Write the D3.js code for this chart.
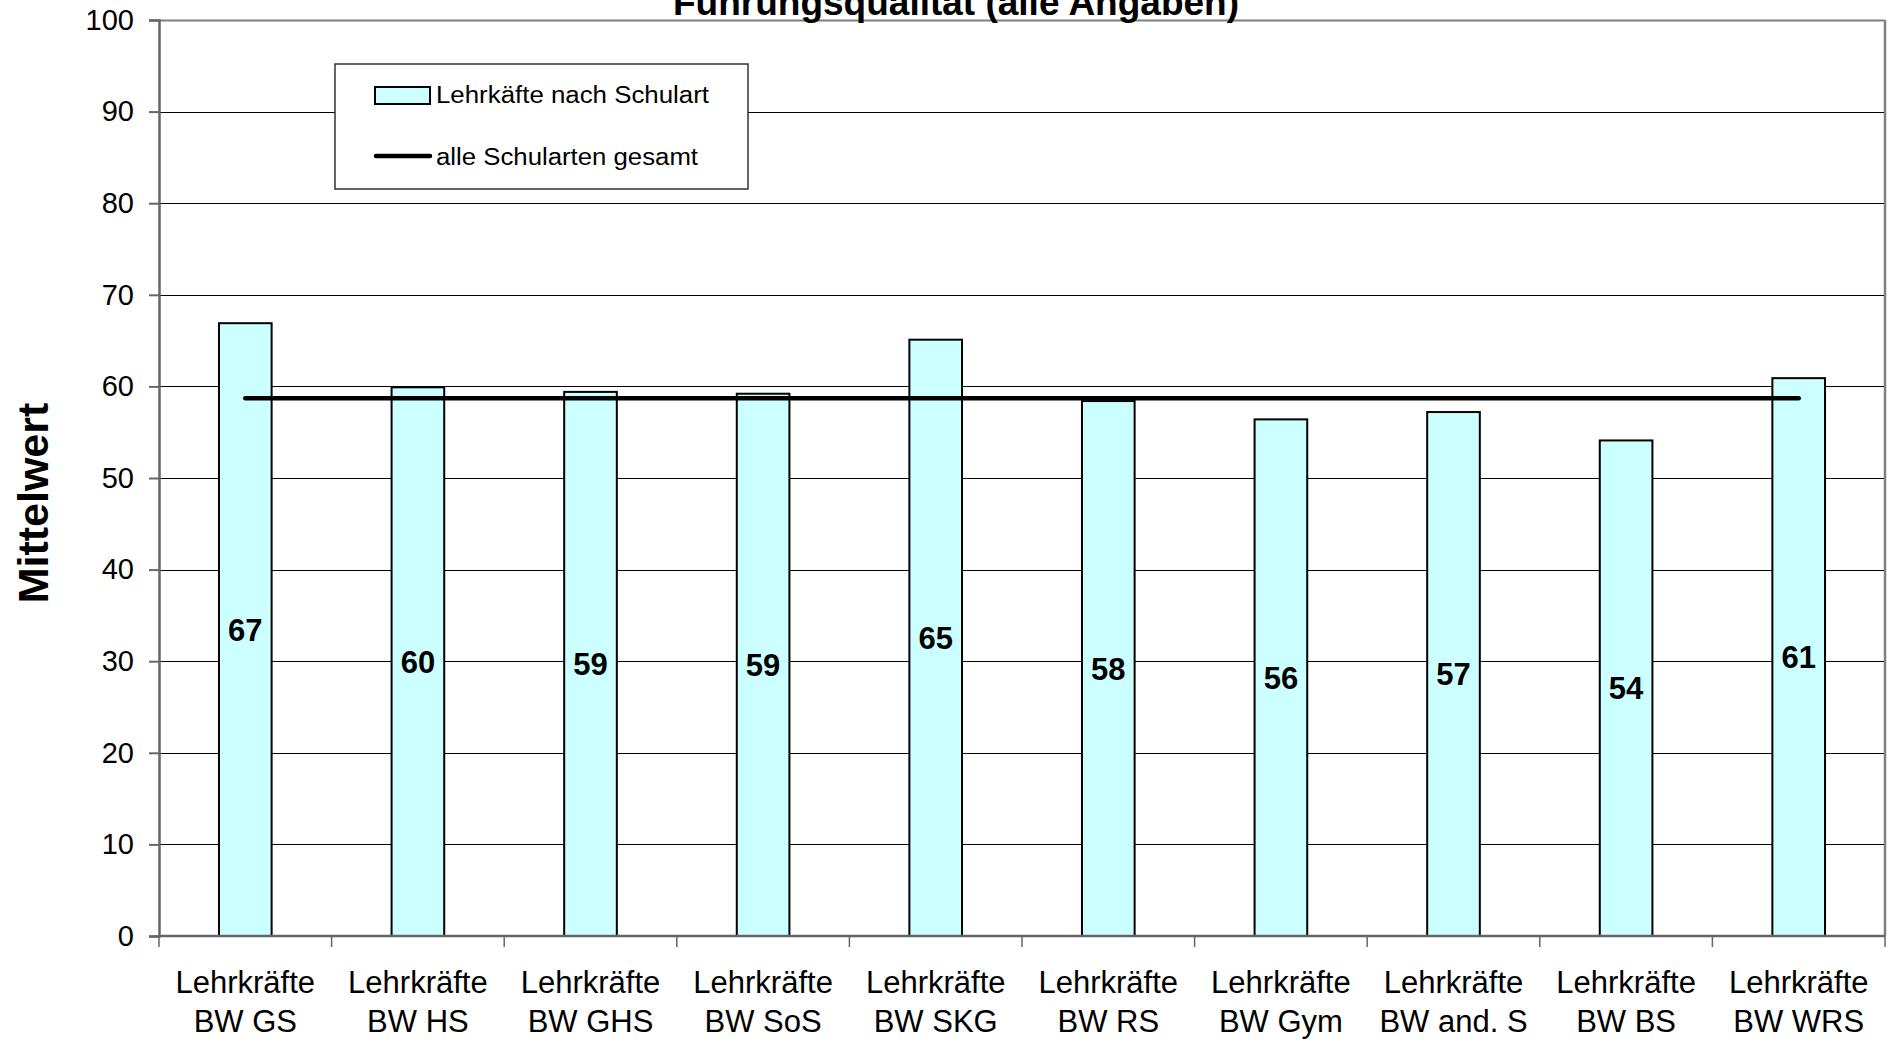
<!DOCTYPE html>
<html>
<head>
<meta charset="utf-8">
<script src="https://cdn.jsdelivr.net/npm/d3@7/dist/d3.min.js"></script>
<style>
  html, body { margin: 0; padding: 0; background: #fff; }
  svg { display: block; }
  text { font-family: "Liberation Sans", Arial, sans-serif; fill: #000; }
</style>
</head>
<body>
<svg id="chart" width="1888" height="1042"></svg>
<script>
// ---- data ----
const title = "Führungsqualität (alle Angaben)";
const yAxisTitle = "Mittelwert";
const categories = [
  "Lehrkräfte BW GS", "Lehrkräfte BW HS", "Lehrkräfte BW GHS", "Lehrkräfte BW SoS",
  "Lehrkräfte BW SKG", "Lehrkräfte BW RS", "Lehrkräfte BW Gym", "Lehrkräfte BW and. S",
  "Lehrkräfte BW BS", "Lehrkräfte BW WRS"
];
const values = [66.9, 59.9, 59.4, 59.2, 65.1, 58.4, 56.4, 57.2, 54.1, 60.9];
const overallMean = 58.7;
const yTicks = [0, 10, 20, 30, 40, 50, 60, 70, 80, 90, 100];
const legendLabels = ["Lehrkäfte nach Schulart", "alle Schularten gesamt"];

// ---- layout ----
const svg = d3.select("#chart");
const plot = { left: 159, right: 1885, top: 20, bottom: 936 };

const xOuter = d3.scaleBand().domain(categories).range([plot.left, plot.right]).padding(0);
const x = d3.scaleBand().domain(categories).range([plot.left, plot.right])
  .paddingInner(0.695).paddingOuter(0.3475);
const y = d3.scaleLinear().domain([0, 100]).range([plot.bottom, plot.top]);

// gridlines
svg.append("g").selectAll("line").data(yTicks.filter(d => d > 0)).join("line")
  .attr("x1", plot.left).attr("x2", plot.right)
  .attr("y1", d => Math.round(y(d)) + 0.5).attr("y2", d => Math.round(y(d)) + 0.5)
  .attr("stroke", d => d === 100 ? "#808080" : "#000")
  .attr("stroke-width", d => d === 100 ? 2 : 1);

// right border
svg.append("line")
  .attr("x1", plot.right).attr("x2", plot.right)
  .attr("y1", y(100)).attr("y2", y(0))
  .attr("stroke", "#808080").attr("stroke-width", 2.5);

// bars
svg.append("g").selectAll("rect").data(values).join("rect")
  .attr("x", (d, i) => x(categories[i]))
  .attr("width", x.bandwidth())
  .attr("y", d => y(d))
  .attr("height", d => y(0) - y(d))
  .attr("fill", "#CCFFFF")
  .attr("stroke", "#000")
  .attr("stroke-width", 2);

// overall mean line
svg.append("line")
  .attr("x1", x(categories[0]) + x.bandwidth() / 2)
  .attr("x2", x(categories[categories.length - 1]) + x.bandwidth() / 2)
  .attr("y1", y(overallMean)).attr("y2", y(overallMean))
  .attr("stroke", "#000").attr("stroke-width", 4.5)
  .attr("stroke-linecap", "round");

// data labels (centered in bar)
svg.append("g").selectAll("text").data(values).join("text")
  .attr("x", (d, i) => x(categories[i]) + x.bandwidth() / 2)
  .attr("y", d => y(d / 2))
  .attr("dy", "0.36em")
  .attr("text-anchor", "middle")
  .attr("font-size", 31)
  .attr("font-weight", "bold")
  .text(d => d3.format(".0f")(d));

// y axis
const yAxis = svg.append("g")
  .attr("transform", `translate(${plot.left},0)`)
  .call(d3.axisLeft(y).tickValues(yTicks).tickSize(10).tickPadding(15).tickFormat(d3.format("d")));
yAxis.select(".domain").attr("stroke", "#666").attr("stroke-width", 2.5);
yAxis.selectAll(".tick line").attr("stroke", "#666").attr("stroke-width", 2);
yAxis.selectAll(".tick text")
  .attr("font-family", "'Liberation Sans', Arial, sans-serif")
  .attr("font-size", 29).attr("fill", "#000");

// x axis line
svg.append("line")
  .attr("x1", plot.left).attr("x2", plot.right)
  .attr("y1", y(0)).attr("y2", y(0))
  .attr("stroke", "#666").attr("stroke-width", 2.5);

// x boundary ticks
const boundaries = categories.map(c => xOuter(c)).concat([xOuter.range()[1]]);
svg.append("g").selectAll("line").data(boundaries).join("line")
  .attr("x1", d => d).attr("x2", d => d)
  .attr("y1", y(0)).attr("y2", y(0) + 11)
  .attr("stroke", "#666").attr("stroke-width", 1.5);

// category labels (two lines)
const catG = svg.append("g").selectAll("text").data(categories).join("text")
  .attr("text-anchor", "middle")
  .attr("font-size", 31);
catG.each(function(c) {
  const idx = c.indexOf(" ");
  const lines = [c.slice(0, idx), c.slice(idx + 1)];
  const cx = xOuter(c) + xOuter.bandwidth() / 2;
  d3.select(this).selectAll("tspan").data(lines).join("tspan")
    .attr("x", cx)
    .attr("y", (d, i) => y(0) + 57 + i * 38.5)
    .text(d => d);
});

// y axis title
svg.append("text")
  .attr("transform", "translate(48,503) rotate(-90)")
  .attr("text-anchor", "middle")
  .attr("font-size", 43)
  .attr("font-weight", "bold")
  .text(yAxisTitle);

// chart title (partly cut at top, as in reference)
svg.append("text")
  .attr("x", 956).attr("y", 15)
  .attr("text-anchor", "middle")
  .attr("font-size", 37)
  .attr("font-weight", "bold")
  .text(title);

// legend
const lg = svg.append("g");
lg.append("rect")
  .attr("x", 335).attr("y", 64).attr("width", 413).attr("height", 125)
  .attr("fill", "#fff").attr("stroke", "#333").attr("stroke-width", 1.5);
lg.append("rect")
  .attr("x", 375).attr("y", 87).attr("width", 55).attr("height", 17)
  .attr("fill", "#CCFFFF").attr("stroke", "#000").attr("stroke-width", 2);
lg.append("line")
  .attr("x1", 376).attr("x2", 430).attr("y1", 156).attr("y2", 156)
  .attr("stroke", "#000").attr("stroke-width", 4.5).attr("stroke-linecap", "round");
lg.append("text")
  .attr("x", 436).attr("y", 103)
  .attr("font-size", 23)
  .attr("textLength", 273).attr("lengthAdjust", "spacingAndGlyphs")
  .text(legendLabels[0]);
lg.append("text")
  .attr("x", 436).attr("y", 165)
  .attr("font-size", 23)
  .attr("textLength", 262).attr("lengthAdjust", "spacingAndGlyphs")
  .text(legendLabels[1]);
</script>
</body>
</html>
